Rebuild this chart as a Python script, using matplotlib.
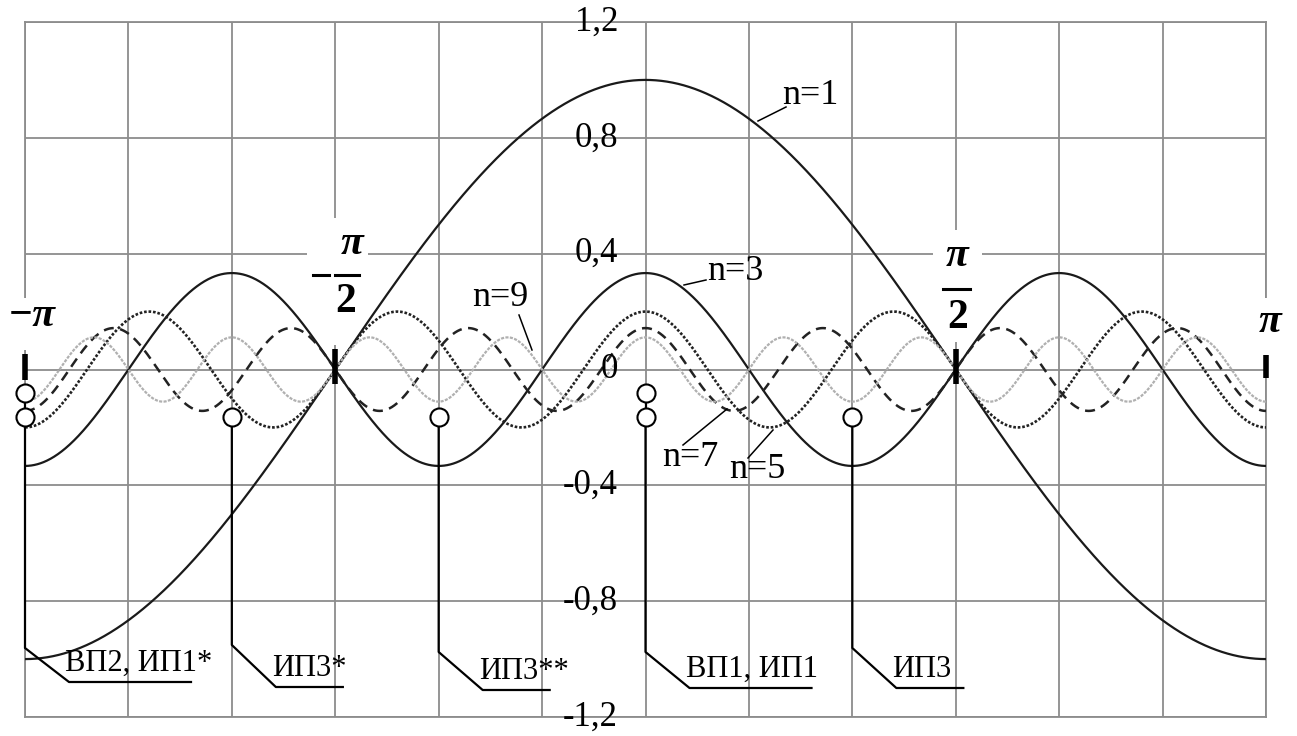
import numpy as np
import matplotlib.pyplot as plt
from matplotlib.patches import Rectangle

plt.rcParams['font.family'] = ['Liberation Serif', 'DejaVu Serif']

# harmonics cos(n x)/n, amplitudes
harmonics = [1, 3, 5, 7, 9]
amplitudes = [1.0, 0.333, 0.2, 0.143, 0.111]
curve_names = ['n=1', 'n=3', 'n=5', 'n=7', 'n=9']

ytick_vals = [-1.2, -0.8, -0.4, 0.0, 0.4, 0.8, 1.2]
ytick_text = ['-1,2', '-0,8', '-0,4', '0', '0,4', '0,8', '1,2']

# marked points and their labels
point_x = [-np.pi, -2 * np.pi / 3, -np.pi / 3, 0.0, np.pi / 3]
point_names = ['ВП2, ИП1*', 'ИП3*', 'ИП3**', 'ВП1, ИП1', 'ИП3']
double_circle = [True, False, False, True, False]

# reference pixel geometry of the plot box
W, H = 1297, 736
L, R, T, B = 25, 1266, 22, 717


def P(px, py):
    # reference pixel -> data coords
    return (-np.pi + (px - L) / (R - L) * 2 * np.pi,
            1.2 - (py - T) / (B - T) * 2.4)


def dx(px):
    return px / (R - L) * 2 * np.pi


fig = plt.figure(figsize=(W / 100, H / 100), dpi=100)
ax = fig.add_axes([L / W, 1 - B / H, (R - L) / W, (B - T) / H])
ax.set_xlim(-np.pi, np.pi)
ax.set_ylim(-1.2, 1.2)
ax.set_xticks(np.arange(-6, 7) * np.pi / 6)
ax.set_yticks(ytick_vals)
ax.tick_params(length=0, labelbottom=False, labelleft=False)
ax.grid(True, color='#8c8c8c', lw=1.3)
for s in ax.spines.values():
    s.set_color('#8c8c8c')
    s.set_linewidth(1.3)
ax.set_axisbelow(True)

x = np.linspace(-np.pi, np.pi, 2000)
styles = [
    dict(color='#1a1a1a', lw=1.6, ls='-'),
    dict(color='#1a1a1a', lw=1.6, ls='-'),
    dict(color='#222222', lw=1.9, ls=(0, (1.0, 0.7))),
    dict(color='#222222', lw=1.8, ls=(0, (4.0, 2.6))),
    dict(color='#b0b0b0', lw=1.6, ls=(0, (1.4, 0.6))),
]
for n, a, st in zip(harmonics, amplitudes, styles):
    ax.plot(x, a * np.cos(n * x), zorder=4, **st)

# y labels on the centre line
for v, t in zip(ytick_vals, ytick_text):
    ax.text(P(618, 0)[0], v, t, ha='right', va='center', fontsize=25, zorder=6)


# white patches breaking the grid under the pi labels
def white_box(x0, y0, x1, y1):
    a = P(x0, y1)
    b = P(x1, y0)
    ax.add_patch(Rectangle(a, b[0] - a[0], b[1] - a[1], facecolor='white',
                           edgecolor='none', zorder=2.6, clip_on=False))


white_box(4, 298, 60, 350)
white_box(307, 218, 368, 345)
white_box(933, 230, 982, 342)
white_box(1250, 298, 1292, 358)

pi_kw = dict(fontsize=30, fontweight='bold', fontstyle='italic',
             ha='center', va='center', zorder=7)
num_kw = dict(fontsize=30, fontweight='bold', ha='center', va='center', zorder=7)

ax.text(*P(32, 316), '−π', **pi_kw)
ax.text(*P(1270, 322), 'π', **pi_kw)
# -pi/2
ax.text(*P(352, 244), 'π', **pi_kw)
ax.text(*P(346, 302), '2', **num_kw)
ax.plot(*zip(P(313, 275), P(329, 275)), color='black', lw=2.2, zorder=7)
ax.plot(*zip(P(335, 275), P(359, 275)), color='black', lw=2.2, zorder=7)
# pi/2
ax.text(*P(957, 256), 'π', **pi_kw)
ax.text(*P(958, 318), '2', **num_kw)
ax.plot(*zip(P(943, 289), P(970, 289)), color='black', lw=2.2, zorder=7)

# thick ticks on the zero line
for xt, h in zip([-np.pi, -np.pi / 2, np.pi / 2, np.pi], [0.045, 0.06, 0.06, 0.04]):
    ax.plot([xt, xt], [-h + 0.01, h + 0.01], color='black', lw=4,
            solid_capstyle='butt', zorder=8, clip_on=False)

# curve labels with leaders: (text px, leader from px, leader to px)
curve_lbl = {
    'n=1': ((810, 96), (758, 121), (786, 107)),
    'n=3': ((735, 272), (684, 285), (706, 280)),
    'n=9': ((500, 298), (519, 315), (532, 350)),
    'n=7': ((690, 458), (683, 445), (727, 409)),
    'n=5': ((757, 469), (748, 458), (773, 430)),
}
for name in curve_names:
    tp, a, b = curve_lbl[name]
    ax.text(*P(*tp), name, ha='center', va='center', fontsize=26, zorder=7)
    ax.plot(*zip(P(*a), P(*b)), color='black', lw=1.1, zorder=7)

# marked points and leader lines to the bottom labels
knee_py = [648, 645, 652, 652, 648]
under_py = [682, 687, 690, 688, 688]
under_len = [122, 67, 67, 122, 67]
for xp, name, dbl, kp, up, ul in zip(point_x, point_names, double_circle,
                                     knee_py, under_py, under_len):
    y_lo = -0.164
    ky = P(0, kp)[1]
    uy = P(0, up)[1]
    x1 = xp + dx(44)
    ax.plot([xp, xp, x1, x1 + dx(ul)], [y_lo, ky, uy, uy], color='black',
            lw=1.6, zorder=5, clip_on=False)
    ax.plot([xp], [y_lo], 'o', ms=13, mfc='white', mec='black', mew=1.5,
            zorder=9, clip_on=False)
    if dbl:
        ax.plot([xp, xp], [y_lo, -0.081], color='black', lw=1.6, zorder=5,
                clip_on=False)
        ax.plot([xp], [-0.081], 'o', ms=13, mfc='white', mec='black', mew=1.5,
                zorder=9, clip_on=False)
    ax.text(x1 - dx(4), uy + 0.015, name, ha='left', va='bottom', fontsize=22,
            zorder=7)

fig.savefig('out.png', dpi=100)
